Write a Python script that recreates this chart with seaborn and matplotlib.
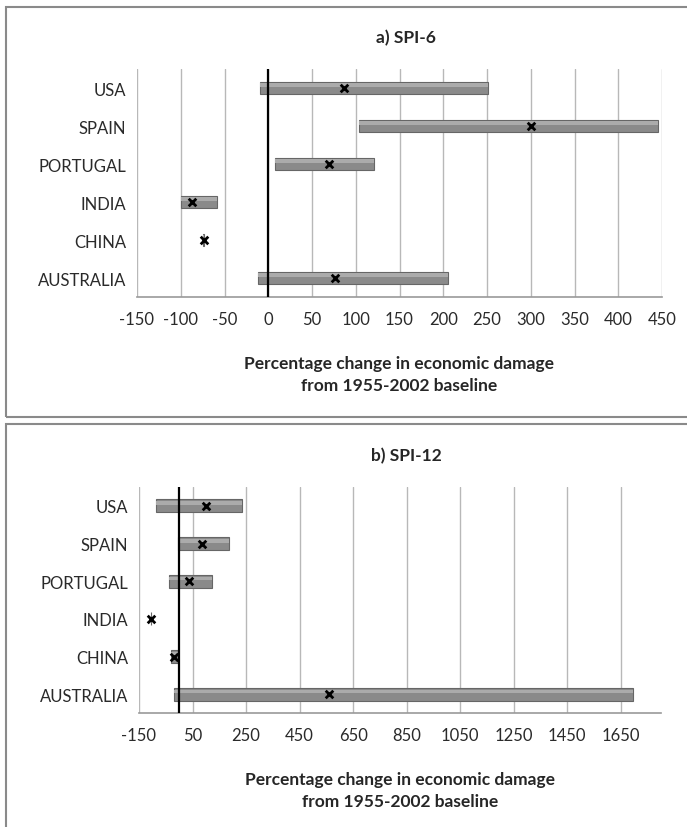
import matplotlib
matplotlib.use("Agg")
import matplotlib.pyplot as plt
import numpy as np
import seaborn as sns
from matplotlib.patches import Rectangle

countries = ["USA", "SPAIN", "PORTUGAL", "INDIA", "CHINA", "AUSTRALIA"]

# a) SPI-6 : range low / high and central estimate
spi6_low = [-9, 104, 8, -100, -75, -12]
spi6_high = [251, 445, 121, -59, -73, 205]
spi6_mid = [87, 300, 69, -87, -74, 76]

# b) SPI-12
spi12_low = [-85, -6, -39, -107, -31, -21]
spi12_high = [233, 185, 121, -105, -6, 1697]
spi12_mid = [100, 85, 35, -106, -19, 560]

ticks_a = np.arange(-150, 451, 50)
ticks_b = np.arange(-150, 1651, 200)

sns.set_style("white")
plt.rcParams["font.family"] = ["Lato", "DejaVu Sans"]

fig = plt.figure(figsize=(6.87, 8.28), dpi=100)
W, H = 687, 828


def fig_rect(x0, y0, x1, y1):
    return [x0 / W, 1 - y1 / H, (x1 - x0) / W, (y1 - y0) / H]


def panel(rect, low, high, mid, ticks, xmax, title, title_y):
    ax = fig.add_axes(fig_rect(*rect))
    y = np.arange(len(countries))
    low = np.array(low)
    high = np.array(high)
    width = high - low
    ax.barh(y, width, left=low, height=0.34, color="#8a8a8a",
            edgecolor="#666666", linewidth=0.8, zorder=3)
    ax.barh(y - 0.07, width, left=low, height=0.1, color="#ababab",
            linewidth=0, zorder=4)
    sns.scatterplot(x=mid, y=y, ax=ax, marker="x", color="black", s=30,
                    linewidth=2, zorder=6, legend=False)
    ax.axvline(0, color="black", lw=1.6, zorder=5)
    ax.set_xlim(ticks[0], xmax)
    ax.set_ylim(len(countries) - 0.5, -0.5)
    ax.set_yticks(y)
    ax.set_yticklabels(countries, fontsize=12, color="#2a2a2a")
    ax.set_xticks(ticks)
    ax.set_xticklabels([str(t) for t in ticks], fontsize=12, color="#2a2a2a")
    ax.tick_params(axis="y", length=0, pad=8)
    ax.tick_params(axis="x", length=4, color="#999999", pad=6)
    for t in ticks:
        ax.axvline(t, color="#b8b8b8", lw=1, zorder=1)
    for s in ["top", "right", "left"]:
        ax.spines[s].set_visible(False)
    ax.spines["bottom"].set_color("#999999")
    ax.spines["bottom"].set_linewidth(1.2)
    ax.set_xlabel("Percentage change in economic damage\nfrom 1955-2002 baseline",
                  fontsize=12.5, fontweight="bold", labelpad=20, linespacing=1.5)
    fig.text((rect[0] + rect[2]) / 2 / W + 0.01, 1 - title_y / H, title,
             ha="center", va="center", fontsize=12.5, fontweight="bold")
    return ax


panel((137, 70, 662, 298), spi6_low, spi6_high, spi6_mid, ticks_a, 450,
      "a) SPI-6", 38)
panel((139, 488, 661, 714), spi12_low, spi12_high, spi12_mid, ticks_b, 1800,
      "b) SPI-12", 456)

# panel frames
fig.patches.append(Rectangle((6 / W, 1 - 418 / H), 900 / W, 410 / H,
                             transform=fig.transFigure, fill=False,
                             edgecolor="#8a8a8a", lw=1.5))
fig.patches.append(Rectangle((6 / W, -0.05), 900 / W, 1 - 425 / H + 0.05,
                             transform=fig.transFigure, fill=False,
                             edgecolor="#8a8a8a", lw=1.5))

fig.savefig("out.png", dpi=100)
